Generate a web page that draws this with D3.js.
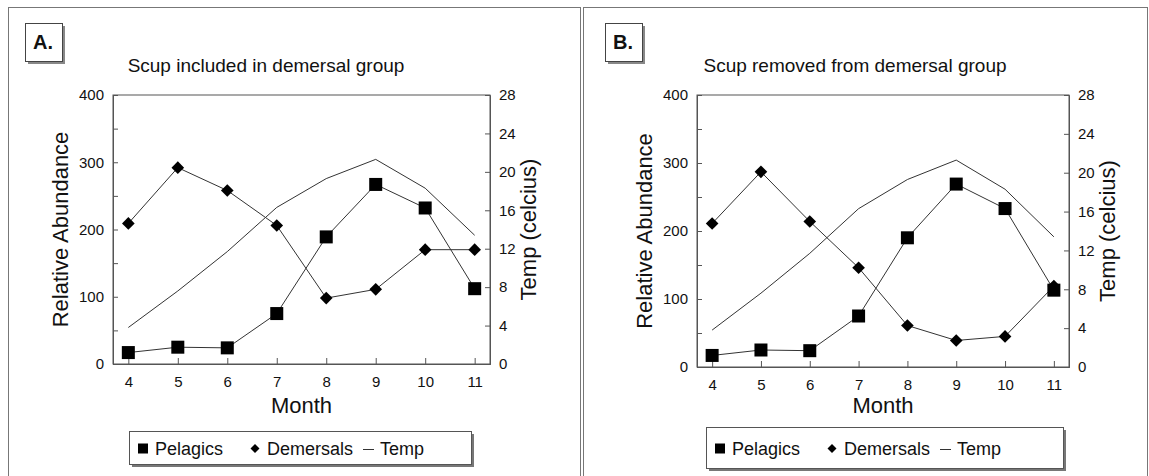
<!DOCTYPE html>
<html>
<head>
<meta charset="utf-8">
<script src="https://cdn.jsdelivr.net/npm/d3@7"></script>
<style>
  body { margin: 0; background: #fff; }
  text { font-family: "Liberation Sans", Arial, sans-serif; fill: #111; }
</style>
</head>
<body>
<svg id="mysvg" width="1149" height="476"></svg>
<script>
// data
const months = [4, 5, 6, 7, 8, 9, 10, 11];
const pelagicsA = [17, 25, 24, 75, 189, 267, 232, 112];
const demersalsA = [209, 292, 258, 206, 98, 111, 170, 170];
const pelagicsB = [17, 25, 24, 75, 190, 269, 233, 113];
const demersalsB = [211, 287, 214, 146, 61, 39, 45, 119];
const temp = [3.8, 7.6, 11.7, 16.3, 19.3, 21.3, 18.3, 13.4];
const abundanceTicks = d3.range(0, 401, 50);
const tempTicks = d3.range(0, 29, 4);
const legendItems = ["Pelagics", "Demersals", "Temp"];

const svg = d3.select("#mysvg");

function drawPanel(cfg) {
  const g = svg.append("g");

  // outer frame
  g.append("rect")
    .attr("x", cfg.frame[0] + 0.5).attr("y", 7.5)
    .attr("width", cfg.frame[1] - cfg.frame[0]).attr("height", 490)
    .attr("fill", "none").attr("stroke", "#777");

  // letter box with shadow
  g.append("rect").attr("x", cfg.letterX + 3).attr("y", 26).attr("width", 37).attr("height", 38).attr("fill", "#888");
  g.append("rect").attr("x", cfg.letterX + 0.5).attr("y", 23.5).attr("width", 37).attr("height", 38)
    .attr("fill", "#fff").attr("stroke", "#444");
  g.append("text").attr("x", cfg.letterX + 8).attr("y", 49)
    .style("font-size", "20px").style("font-weight", "bold").text(cfg.letter);

  g.append("text").attr("x", cfg.titleX).attr("y", 72).attr("text-anchor", "middle")
    .style("font-size", "19px").text(cfg.title);

  const x = d3.scaleLinear().domain([3.69, 11.31]).range([cfg.left, cfg.right]);
  const y = d3.scaleLinear().domain([0, 400]).range([cfg.bottom, cfg.top]);
  const yT = d3.scaleLinear().domain([0, 28]).range([cfg.bottom, cfg.top]);

  g.append("rect").attr("x", cfg.left).attr("y", cfg.top)
    .attr("width", cfg.right - cfg.left).attr("height", cfg.bottom - cfg.top)
    .attr("fill", "none").attr("stroke", "#555");

  const axL = g.append("g").attr("transform", `translate(${cfg.left},0)`)
    .call(d3.axisLeft(y).tickValues(abundanceTicks).tickFormat(d => d % 100 ? "" : d).tickSize(-5).tickPadding(9));
  const axR = g.append("g").attr("transform", `translate(${cfg.right},0)`)
    .call(d3.axisRight(yT).tickValues(tempTicks).tickSize(-5).tickPadding(9));
  const axB = g.append("g").attr("transform", `translate(0,${cfg.bottom})`)
    .call(d3.axisBottom(x).tickValues(months).tickSize(-6).tickPadding(12));
  [axL, axR, axB].forEach(a => {
    a.select(".domain").attr("stroke", "#555");
    a.selectAll(".tick line").attr("stroke", "#555");
    a.selectAll("text").style("font-size", "15px").attr("fill", "#111");
  });

  g.append("text").attr("transform", `translate(${cfg.left - 45},${(cfg.top + cfg.bottom) / 2}) rotate(-90)`)
    .attr("text-anchor", "middle").style("font-size", "22px").text("Relative Abundance");
  g.append("text").attr("transform", `translate(${cfg.right + 46},${(cfg.top + cfg.bottom) / 2}) rotate(-90)`)
    .attr("text-anchor", "middle").style("font-size", "22px").text("Temp (celcius)");
  g.append("text").attr("x", (cfg.left + cfg.right) / 2).attr("y", 413)
    .attr("text-anchor", "middle").style("font-size", "22px").text("Month");

  const line = d3.line().x((d, i) => x(months[i]));

  g.append("path").datum(temp).attr("d", line.y(d => yT(d)))
    .attr("fill", "none").attr("stroke", "#333").attr("stroke-width", 1);
  g.append("path").datum(cfg.dem).attr("d", line.y(d => y(d)))
    .attr("fill", "none").attr("stroke", "#333").attr("stroke-width", 1);
  g.append("path").datum(cfg.pel).attr("d", line.y(d => y(d)))
    .attr("fill", "none").attr("stroke", "#333").attr("stroke-width", 1);

  const diamond = d3.symbol().type(d3.symbolSquare).size(80);
  g.selectAll(".dem").data(cfg.dem).join("path").attr("class", "dem")
    .attr("d", diamond)
    .attr("transform", (d, i) => `translate(${x(months[i])},${y(d)}) rotate(45)`)
    .attr("fill", "#000");
  g.selectAll(".pel").data(cfg.pel).join("rect").attr("class", "pel")
    .attr("x", (d, i) => x(months[i]) - 6.5).attr("y", d => y(d) - 6.5)
    .attr("width", 13).attr("height", 13).attr("fill", "#000");

  // legend
  const lg = cfg.legend;
  g.append("rect").attr("x", lg.x + 3).attr("y", lg.y + 3).attr("width", lg.w).attr("height", lg.h).attr("fill", "#777");
  g.append("rect").attr("x", lg.x + 0.5).attr("y", lg.y + 0.5).attr("width", lg.w).attr("height", lg.h)
    .attr("fill", "#fff").attr("stroke", "#555");
  const ly = lg.y + lg.h / 2;
  const lx = lg.x + 9;
  g.append("rect").attr("x", lx).attr("y", ly - 4).attr("width", 10).attr("height", 10).attr("fill", "#000");
  g.append("path").attr("d", d3.symbol().type(d3.symbolSquare).size(40))
    .attr("transform", `translate(${lx + 117},${ly + 1}) rotate(45)`).attr("fill", "#000");
  g.append("line").attr("x1", lx + 225).attr("x2", lx + 236).attr("y1", ly + 2).attr("y2", ly + 2).attr("stroke", "#333");
  g.selectAll(".lgt").data(legendItems).join("text").attr("class", "lgt")
    .attr("x", (d, i) => lx + [17, 129, 242][i]).attr("y", ly + 7)
    .style("font-size", "18px").text(d => d);
}

drawPanel({
  frame: [8, 580], letter: "A.", letterX: 25, titleX: 266,
  title: "Scup included in demersal group",
  left: 113, right: 490, top: 95, bottom: 364,
  pel: pelagicsA, dem: demersalsA,
  legend: { x: 129, y: 431, w: 342, h: 33 }
});
drawPanel({
  frame: [583, 1147], letter: "B.", letterX: 605, titleX: 855,
  title: "Scup removed from demersal group",
  left: 697, right: 1069, top: 95, bottom: 367,
  pel: pelagicsB, dem: demersalsB,
  legend: { x: 706, y: 427, w: 357, h: 41 }
});
</script>
</body>
</html>
